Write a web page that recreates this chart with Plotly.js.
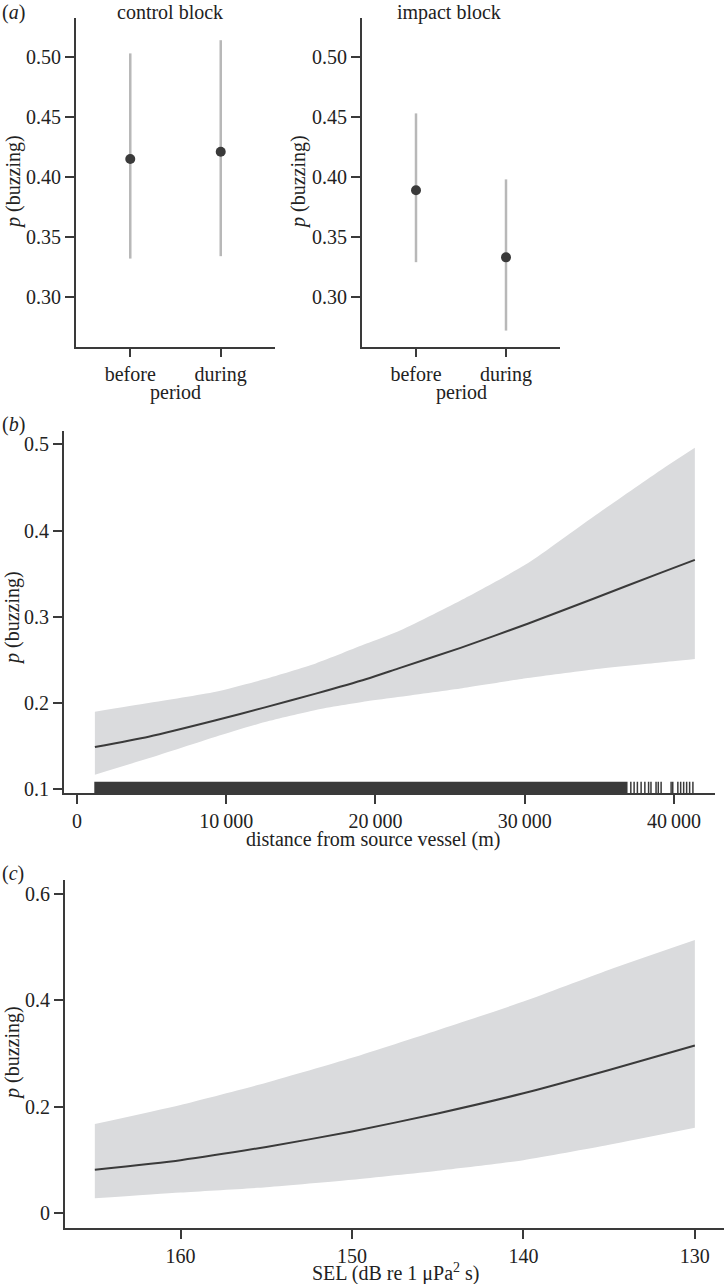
<!DOCTYPE html>
<html>
<head>
<meta charset="utf-8">
<script src="https://cdn.plot.ly/plotly-3.0.1.min.js"></script>
<style>html,body{margin:0;padding:0;background:#fff}</style>
</head>
<body>
<div id="chart" style="width:725px;height:1284px"></div>
<script>
// ---- Panel (a): buzzing probability by period, control vs impact block ----
const periods = ['before', 'during'];
const controlP = [0.415, 0.421];
const controlLo = [0.332, 0.334];
const controlHi = [0.503, 0.514];
const impactP = [0.389, 0.333];
const impactLo = [0.329, 0.272];
const impactHi = [0.453, 0.398];

// ---- Panel (b): distance from source vessel ----
const distX = [1200, 4800, 9300, 12600, 16000, 19400, 21500, 25700, 30200, 34600, 39100, 41400];
const distFit = [0.149, 0.161, 0.180, 0.195, 0.211, 0.228, 0.240, 0.264, 0.292, 0.321, 0.351, 0.366];
const distUpper = [0.190, 0.200, 0.213, 0.228, 0.246, 0.269, 0.283, 0.319, 0.362, 0.416, 0.470, 0.496];
const distLower = [0.117, 0.136, 0.161, 0.178, 0.192, 0.202, 0.207, 0.217, 0.229, 0.239, 0.247, 0.251];
const distTicks = [0, 10000, 20000, 30000, 40000];
const distTickText = ['0', '10\u2009000', '20\u2009000', '30\u2009000', '40\u2009000'];
// rug: one dense run of observations, then scattered ones at far range
const rugDense = [1160, 36890];
const rugSparse = [37110, 37330, 37550, 37800, 38050, 38300, 38460, 38800, 38950, 39140,
  39810, 39920, 40260, 40450, 40650, 40850, 41050, 41270];

// ---- Panel (c): sound exposure level ----
const selX = [165, 160, 155, 150, 145, 140, 135, 130];
const selFit = [0.081, 0.099, 0.124, 0.153, 0.187, 0.225, 0.269, 0.315];
const selUpper = [0.167, 0.203, 0.245, 0.292, 0.344, 0.398, 0.458, 0.514];
const selLower = [0.027, 0.038, 0.048, 0.062, 0.079, 0.099, 0.128, 0.160];

const W = 725, H = 1284;
const ink = '#3a3a3a';
const bandFill = '#dadbdd';
const barGrey = '#b8b8b8';
const fontFam = '"Liberation Serif", "Times New Roman", serif';
const fs = 20;

const fx = (p) => p / W;
const fy = (p) => 1 - p / H;

function estTrace(p, lo, hi, xa, ya) {
  return {
    x: periods, y: p, xaxis: xa, yaxis: ya, type: 'scatter', mode: 'markers',
    marker: { color: ink, size: 10 },
    error_y: {
      type: 'data', symmetric: false,
      array: hi.map((h, i) => h - p[i]),
      arrayminus: lo.map((l, i) => p[i] - l),
      color: barGrey, thickness: 2.5, width: 0
    },
    hoverinfo: 'skip'
  };
}

function bandTraces(x, lo, hi, fit, xa, ya) {
  const shape = { shape: 'spline', smoothing: 0.6 };
  return [
    { x: x, y: lo, xaxis: xa, yaxis: ya, mode: 'lines', line: Object.assign({ width: 0 }, shape), hoverinfo: 'skip' },
    { x: x, y: hi, xaxis: xa, yaxis: ya, mode: 'lines', line: Object.assign({ width: 0 }, shape),
      fill: 'tonexty', fillcolor: bandFill, hoverinfo: 'skip' },
    { x: x, y: fit, xaxis: xa, yaxis: ya, mode: 'lines', line: Object.assign({ width: 2, color: ink }, shape), hoverinfo: 'skip' }
  ];
}

const distRange = [0.0954, 0.5158];
const rugTop = 0.1088;
const rugBase = distRange[0];

const rugBlock = {
  x: [rugDense[0], rugDense[1], rugDense[1], rugDense[0], rugDense[0]],
  y: [rugBase, rugBase, rugTop, rugTop, rugBase],
  xaxis: 'x3', yaxis: 'y3', mode: 'lines', fill: 'toself', fillcolor: ink,
  line: { width: 0 }, hoverinfo: 'skip'
};
const rugX = [], rugY = [];
rugSparse.forEach((v) => { rugX.push(v, v, null); rugY.push(rugBase, rugTop, null); });
const rugLines = {
  x: rugX, y: rugY, xaxis: 'x3', yaxis: 'y3', mode: 'lines',
  line: { width: 1.5, color: ink }, hoverinfo: 'skip'
};

const data = [
  estTrace(controlP, controlLo, controlHi, 'x', 'y'),
  estTrace(impactP, impactLo, impactHi, 'x2', 'y2'),
  ...bandTraces(distX, distLower, distUpper, distFit, 'x3', 'y3'),
  rugBlock, rugLines,
  ...bandTraces(selX, selLower, selUpper, selFit, 'x4', 'y4')
];

const axisBase = {
  showline: true, linecolor: ink, linewidth: 2,
  ticks: 'outside', ticklen: 9, tickwidth: 2, tickcolor: ink,
  showgrid: false, zeroline: false, automargin: false, fixedrange: true,
  tickfont: { size: fs, color: '#222', family: fontFam }
};
const ax = (o) => Object.assign({}, axisBase, o);

const domA_y = [fy(347), fy(18)];

const layout = {
  width: W, height: H, margin: { l: 0, r: 0, t: 0, b: 0 },
  paper_bgcolor: '#fff', plot_bgcolor: 'rgba(0,0,0,0)', showlegend: false,
  font: { family: fontFam, size: fs, color: '#222' },
  xaxis: ax({ domain: [fx(76), fx(275)], anchor: 'y', type: 'category', range: [-0.6, 1.6], ticklen: 8 }),
  yaxis: ax({ domain: domA_y, anchor: 'x', range: [0.2583, 0.5325], tickvals: [0.30, 0.35, 0.40, 0.45, 0.50], tickformat: '.2f' }),
  xaxis2: ax({ domain: [fx(362), fx(560)], anchor: 'y2', type: 'category', range: [-0.6, 1.6], ticklen: 8 }),
  yaxis2: ax({ domain: domA_y, anchor: 'x2', range: [0.2583, 0.5325], tickvals: [0.30, 0.35, 0.40, 0.45, 0.50], tickformat: '.2f' }),
  xaxis3: ax({ domain: [fx(64), fx(715)], anchor: 'y3', range: [-870, 42750], tickvals: distTicks, ticktext: distTickText }),
  yaxis3: ax({ domain: [fy(793.3), fy(430.7)], anchor: 'x3', range: distRange, tickvals: [0.1, 0.2, 0.3, 0.4, 0.5], tickformat: '.1f' }),
  xaxis4: ax({ domain: [fx(65), fx(724)], anchor: 'y4', range: [166.74, 128.3], tickvals: [160, 150, 140, 130] }),
  yaxis4: ax({ domain: [fy(1227.7), fy(880)], anchor: 'x4', range: [-0.0283, 0.627], tickvals: [0, 0.2, 0.4, 0.6] }),
  annotations: []
};

function label(text, x, y, opts) {
  layout.annotations.push(Object.assign({
    text: text, x: fx(x), y: fy(y), xref: 'paper', yref: 'paper',
    showarrow: false, xanchor: 'center', yanchor: 'middle',
    font: { size: fs, color: '#222', family: fontFam }
  }, opts || {}));
}

label('(<i>a</i>)', 0, 12, { xanchor: 'left' });
label('(<i>b</i>)', 0, 424, { xanchor: 'left' });
label('(<i>c</i>)', 0, 873, { xanchor: 'left' });
label('control block', 170, 12);
label('impact block', 449, 12);
label('period', 175, 392);
label('period', 461, 392);
label('distance from source vessel (m)', 373, 839);
label('SEL (dB re 1 \u03bcPa<sup>2</sup> s)', 396, 1272);
label('<i>p</i> (buzzing)', 14, 182, { textangle: -90 });
label('<i>p</i> (buzzing)', 299, 182, { textangle: -90 });
label('<i>p</i> (buzzing)', 12, 618, { textangle: -90 });
label('<i>p</i> (buzzing)', 12, 1053, { textangle: -90 });

Plotly.newPlot('chart', data, layout, { displayModeBar: false, staticPlot: true });
</script>
</body>
</html>
